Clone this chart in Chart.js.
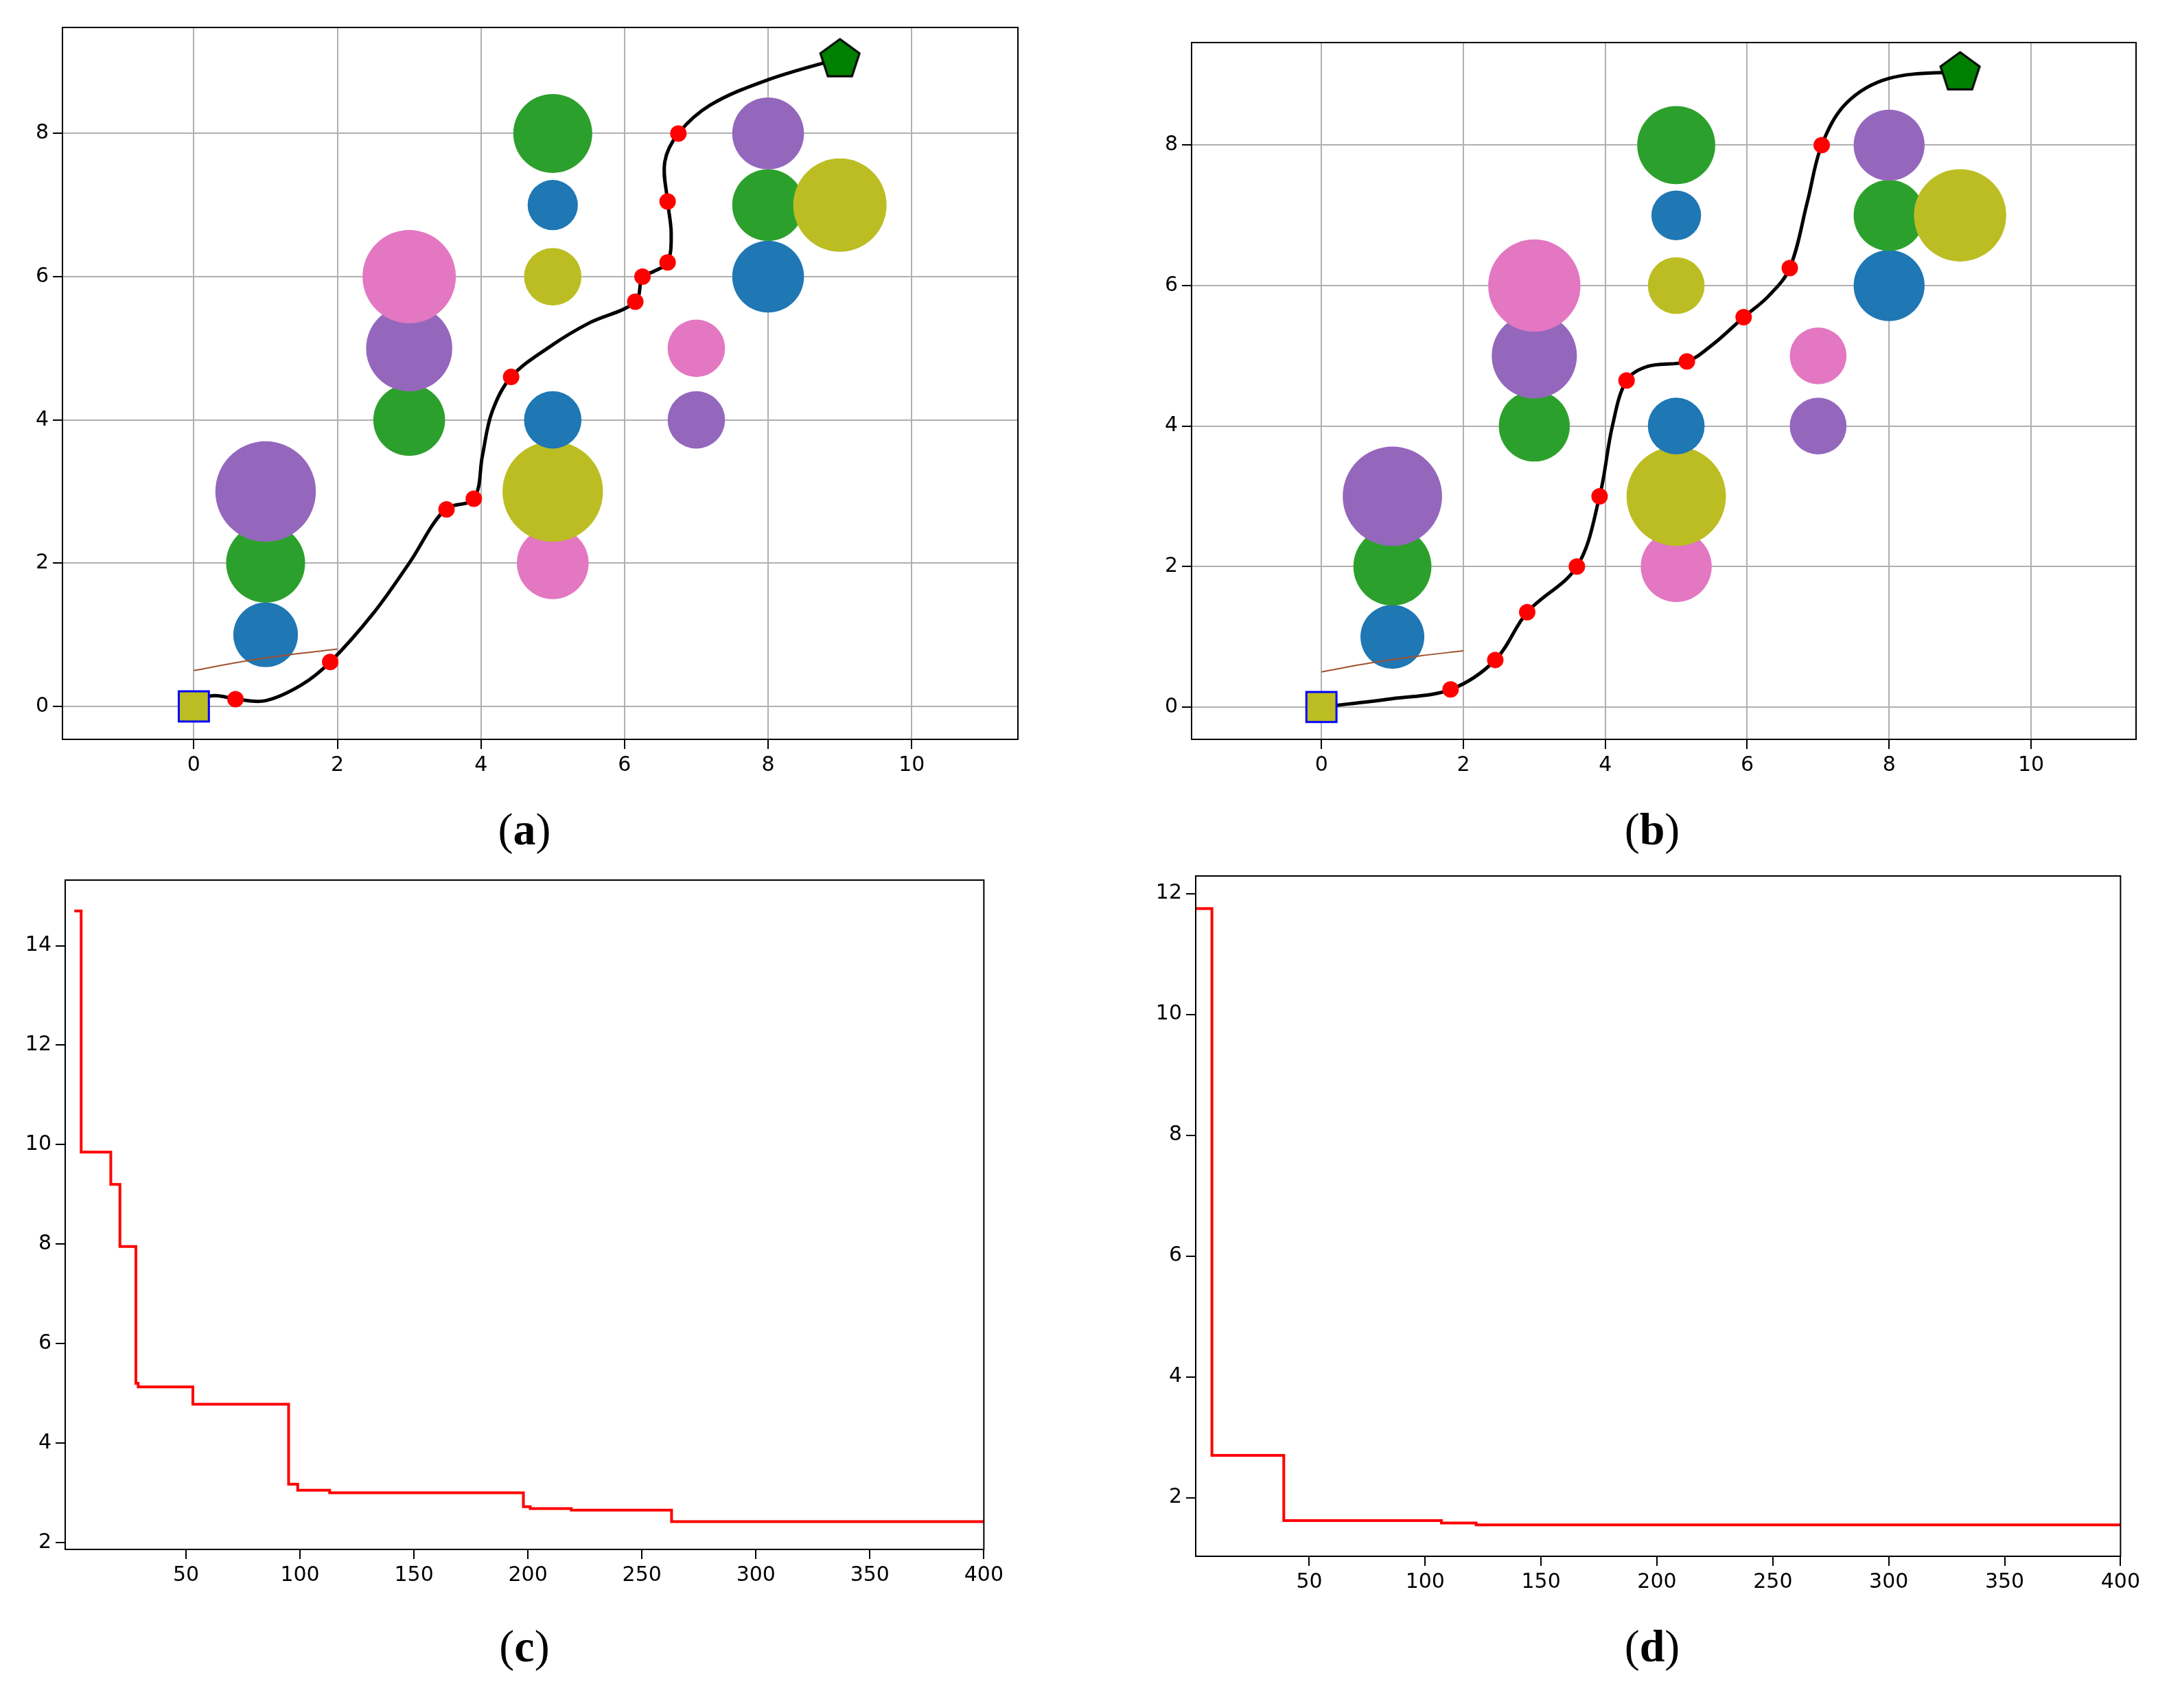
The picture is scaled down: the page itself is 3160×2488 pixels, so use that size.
<!DOCTYPE html>
<html><head><meta charset="utf-8">
<script src="https://cdn.jsdelivr.net/npm/chart.js@4.4.1/dist/chart.umd.min.js"></script>
<style>
body{margin:0;background:#fff;width:3160px;height:2488px;position:relative;overflow:hidden}
.box{position:absolute}
.lab{position:absolute;font-family:"Liberation Serif",serif;font-size:66px;transform:translateX(-50%)}
.lab b{font-weight:bold}
</style></head><body>
<div class="box" id="ba"><canvas id="ca"></canvas></div>
<div class="box" id="bb"><canvas id="cb"></canvas></div>
<div class="box" id="bc"><canvas id="cc"></canvas></div>
<div class="box" id="bd"><canvas id="cd"></canvas></div>
<div class="lab" style="left:764px;top:1170px">(<b>a</b>)</div>
<div class="lab" style="left:2407px;top:1170px">(<b>b</b>)</div>
<div class="lab" style="left:764px;top:2360px">(<b>c</b>)</div>
<div class="lab" style="left:2407px;top:2360px">(<b>d</b>)</div>
<script>
const BLUE = "#1f77b4", GREEN = "#2ca02c", PURPLE = "#9467bd", PINK = "#e377c2", OLIVE = "#bcbd22";

// obstacles: [x, y, radius in data units, colour]
const obstacles = [
    [1, 1, 0.45, BLUE], [1, 2, 0.55, GREEN], [1, 3, 0.7, PURPLE],
    [3, 4, 0.5, GREEN], [3, 5, 0.6, PURPLE], [3, 6, 0.65, PINK],
    [5, 2, 0.5, PINK], [5, 3, 0.7, OLIVE], [5, 4, 0.4, BLUE],
    [5, 6, 0.4, OLIVE], [5, 7, 0.35, BLUE], [5, 8, 0.55, GREEN],
    [7, 4, 0.4, PURPLE], [7, 5, 0.4, PINK],
    [8, 6, 0.5, BLUE], [8, 7, 0.5, GREEN], [8, 8, 0.5, PURPLE], [9, 7, 0.65, OLIVE]
];

const pathA = [[0,0.1],[0.3,0.15],[0.6,0.1],[1,0.08],[1.5,0.3],[1.9,0.62],[2.5,1.3],[3,2],[3.5,2.75],[3.9,2.9],[4.02,3.5],[4.15,4.1],[4.42,4.6],[5,5.05],[5.5,5.35],[6.15,5.65],[6.25,6],[6.4,6.07],[6.6,6.2],[6.65,6.6],[6.6,7.05],[6.56,7.6],[6.75,8],[7.2,8.4],[8,8.75],[9,9.05]];
const waysA = [[0.58,0.1],[1.9,0.62],[3.52,2.75],[3.9,2.9],[4.42,4.6],[6.15,5.65],[6.25,6],[6.6,6.2],[6.6,7.05],[6.75,8]];

const pathB = [[0,0],[1,0.12],[1.82,0.25],[2.45,0.67],[2.9,1.35],[3.6,2],[3.92,3],[4.1,4],[4.3,4.65],[4.6,4.85],[5.15,4.92],[5.5,5.15],[5.95,5.55],[6.3,5.85],[6.6,6.25],[6.85,7.2],[7.05,8],[7.4,8.6],[8,8.95],[9,9.05]];
const waysB = [[1.82,0.25],[2.45,0.67],[2.9,1.35],[3.6,2],[3.92,3],[4.3,4.65],[5.15,4.92],[5.95,5.55],[6.6,6.25],[7.05,8]];

const brownLine = [[0,0.5],[0.7,0.63],[1.4,0.73],[2,0.8]];

// convergence curves: [iteration, value] step points
const costC = [[1,14.7],[4,9.85],[17,9.2],[21,7.95],[28,5.2],[29,5.13],[53,4.78],[95,3.17],[99,3.05],[113,3.0],[198,2.72],[201,2.68],[219,2.65],[263,2.42],[400,2.42]];
const costD = [[1,11.75],[8,2.7],[39,1.62],[107,1.58],[122,1.55],[400,1.55]];

const FONT = {family: "DejaVu Sans", size: 30};

function place(id, l, t, w, h) {
    const b = document.getElementById(id);
    b.style.left = l + "px"; b.style.top = t + "px";
    b.style.width = w + "px"; b.style.height = h + "px";
}

const pentagon = document.createElement("canvas");
pentagon.width = pentagon.height = 66;
(() => {
    const c = pentagon.getContext("2d");
    c.beginPath();
    for (let i = 0; i < 5; i++) {
        const a = -Math.PI / 2 + i * 2 * Math.PI / 5;
        c.lineTo(33 + 30 * Math.cos(a), 35 + 30 * Math.sin(a));
    }
    c.closePath();
    c.fillStyle = "#008000"; c.fill();
    c.lineWidth = 3; c.strokeStyle = "#000"; c.stroke();
})();

const frame = {
    id: "frame",
    afterDatasetsDraw(ch) {
        const a = ch.chartArea, c = ch.ctx;
        c.save();
        c.strokeStyle = "#000"; c.lineWidth = 2;
        c.strokeRect(a.left, a.top, a.right - a.left, a.bottom - a.top);
        c.restore();
    }
};

const pts = a => a.map(([x, y]) => ({x, y}));

function axisCommon(min, max, grid) {
    return {
        type: "linear", min, max,
        border: {color: "#000", width: 2},
        grid: {display: true, drawOnChartArea: grid, color: "#b0b0b0", lineWidth: 2, tickLength: 14, tickColor: "#000"},
        ticks: {font: FONT, color: "#000", padding: 6}
    };
}

function pathChart(canvas, path, ways, ymax) {
    const unit = ch => ch.scales.x.getPixelForValue(1) - ch.scales.x.getPixelForValue(0);
    const x = axisCommon(-1.83, 11.48, true);
    x.afterBuildTicks = s => { s.ticks = [0,2,4,6,8,10].map(v => ({value: v})); };
    x.afterFit = s => { s.height = 70; };
    const y = axisCommon(-0.46, ymax, true);
    y.afterBuildTicks = s => { s.ticks = [0,2,4,6,8].map(v => ({value: v})); };
    y.afterFit = s => { s.width = 80; };
    new Chart(document.getElementById(canvas), {
        type: "scatter",
        data: {datasets: [
            {
                order: 5,
                data: obstacles.map(([x, y, r]) => ({x, y, r})),
                backgroundColor: obstacles.map(o => o[3]),
                borderWidth: 0,
                pointRadius: ctx => ctx.raw ? ctx.raw.r * unit(ctx.chart) : 0,
                pointHoverRadius: ctx => ctx.raw ? ctx.raw.r * unit(ctx.chart) : 0
            },
            {
                type: "line", order: 4, data: pts(brownLine),
                borderColor: "#a0522d", borderWidth: 2, pointRadius: 0, tension: 0.4
            },
            {
                type: "line", order: 3, data: pts(path),
                borderColor: "#000", borderWidth: 5, pointRadius: 0, tension: 0.35
            },
            {
                order: 2, data: pts(ways),
                backgroundColor: "#ff0000", borderWidth: 0, pointRadius: 12
            },
            {
                order: 1, data: [{x: 0, y: 0}],
                pointStyle: "rect", pointRadius: 31, backgroundColor: OLIVE, borderColor: "#0000ff", borderWidth: 3
            },
            {
                order: 0, data: [{x: 9, y: path[path.length - 1][1]}],
                pointStyle: pentagon
            }
        ]},
        options: {
            responsive: true, maintainAspectRatio: false, animation: false,
            plugins: {legend: {display: false}, tooltip: {enabled: false}},
            scales: {x, y}
        },
        plugins: [frame]
    });
}

function costChart(canvas, data, xmin, ymin, ymax, yTicks) {
    const x = axisCommon(xmin, 400, false);
    x.afterBuildTicks = s => { s.ticks = [50,100,150,200,250,300,350,400].map(v => ({value: v})); };
    x.afterFit = s => { s.height = 70; };
    const y = axisCommon(ymin, ymax, false);
    y.afterBuildTicks = s => { s.ticks = yTicks.map(v => ({value: v})); };
    y.afterFit = s => { s.width = 80; };
    new Chart(document.getElementById(canvas), {
        type: "line",
        data: {datasets: [{
            data: pts(data), stepped: "before", borderColor: "#ff0000", borderWidth: 4, pointRadius: 0
        }]},
        options: {
            responsive: true, maintainAspectRatio: false, animation: false,
            plugins: {legend: {display: false}, tooltip: {enabled: false}},
            scales: {x, y}
        },
        plugins: [frame]
    });
}

place("ba", 11, 6, 1486 + 20, 1071 + 70);
place("bb", 1656, 28, 1470 + 20, 1049 + 70);
place("bc", 15, 1258, 1423 + 30, 999 + 70);
place("bd", 1662, 1252, 1432 + 30, 1015 + 70);

pathChart("ca", pathA, waysA, 9.48);
pathChart("cb", pathB, waysB, 9.46);
costChart("cc", costC, -3, 1.86, 15.32, [2,4,6,8,10,12,14]);
costChart("cd", costD, 1, 1.03, 12.29, [2,4,6,8,10,12]);
</script>
</body></html>
